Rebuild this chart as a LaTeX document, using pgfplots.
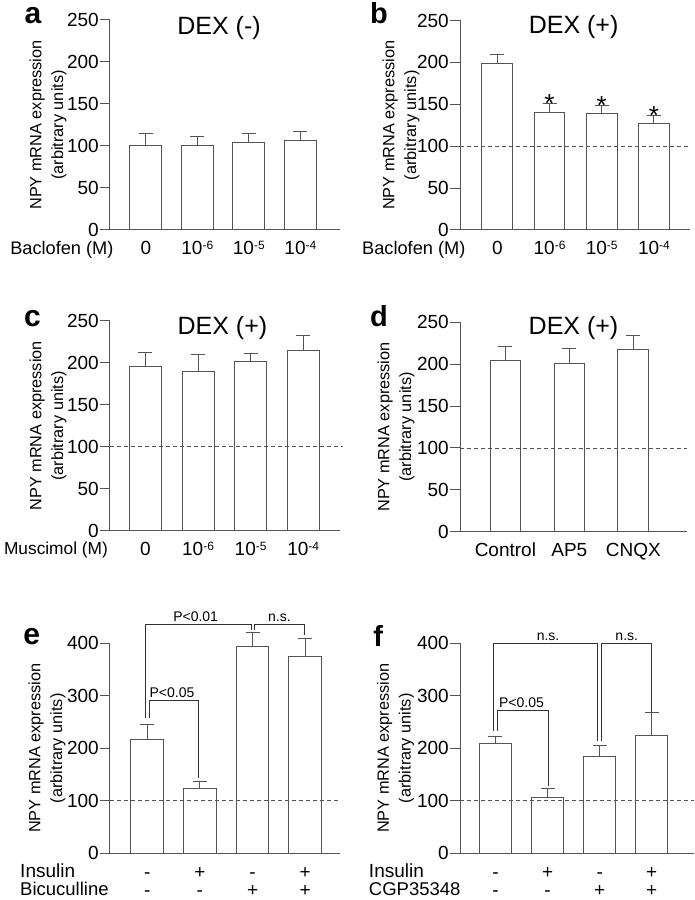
\documentclass[border=0pt]{standalone}
\usepackage{pgfplots}
\pgfplotsset{compat=1.18}
\usepackage{fontspec}
\setmainfont{Liberation Sans}
\definecolor{ln}{gray}{0.33}
\newcommand\fs[1]{\fontsize{#1}{#1}\selectfont}
\newcommand\ee[1]{10\raisebox{5.5pt}{\fontsize{12}{12}\selectfont -#1}}
\newcommand\tr[2]{\rule{0pt}{12.6pt}#1\\#2}
\tikzset{rowlab/.style={anchor=base west, inner sep=0pt, text height=13pt, text depth=0pt}}
\pgfplotsset{
  panel/.style={
    scale only axis, anchor=south west,
    axis lines=left,
    axis line style={-, draw=ln, line width=1pt},
    tick align=outside,
    major tick length=10pt,
    ytick style={draw=ln, line width=1pt},
    xtick style={draw=none},
    clip=false,
    ymin=0,
    /pgf/number format/assume math mode=true,
    tick label style={font=\fs{19}, text=black},
    yticklabel style={inner sep=1pt},
    xticklabel style={anchor=base, yshift=-14.7pt, inner sep=0pt},
    ylabel={NPY mRNA expression\\(arbitrary units)},
    ylabel style={at={([xshift=-62pt]axis description cs:0,0.5)}, anchor=center, align=center, font=\fontsize{16.3}{21.6}\selectfont},
  },
  twoRow/.style={
    xticklabel style={anchor=north, yshift=14.7pt, yshift=-1.9pt, align=center, text depth=0pt, font=\fontsize{19}{18}\selectfont},
  },
  bars/.style={ybar, bar width=#1, bar shift=0pt, fill=white, draw=ln, line width=1pt,
    error bars/.cd, y dir=plus, y explicit,
    error bar style={draw=ln, line width=1pt},
    error mark options={rotate=90, draw=ln, mark size=7pt, line width=1pt}},
  refl/.style={draw=ln, line width=0.8pt, dash pattern=on 4pt off 3pt},
  brk/.style={draw=black!80, line width=0.9pt},
}
\begin{document}
\begin{tikzpicture}
\useasboundingbox (0pt,0pt) rectangle (694pt,900pt);
% panel a
\begin{axis}[panel, at={(110pt,670pt)}, width=230pt, height=210pt,
  xmin=-0.695, xmax=3.77, ymax=250, ytick={0,50,...,250},
  xtick={0,1,2,3}, xticklabels={0,\ee6,\ee5,\ee4}]
\addplot[bars=0.615] coordinates {(0,100) +- (0,15) (1,101) +- (0,10.5) (2,104.6) +- (0,10) (3,107) +- (0,10)};
\node[anchor=base, font=\fs{25}] at (rel axis cs:0.474,0.929) {DEX (-)};
\node[anchor=base, font=\fs{18.2}, yshift=-24.7pt] at (axis cs:-1.63,0) {Baclofen (M)};
\end{axis}
% panel b
\begin{axis}[panel, at={(460pt,670pt)}, width=230pt, height=209.5pt,
  xmin=-0.715, xmax=3.69, ymax=250, ytick={0,50,...,250},
  xtick={0,1,2,3}, xticklabels={0,\ee6,\ee5,\ee4},
  ylabel style={at={([xshift=-59pt]axis description cs:0,0.5)}}]
\addplot[bars=0.59] coordinates {(0,199) +- (0,11) (1,140.4) +- (0,10.3) (2,139) +- (0,10) (3,126.5) +- (0,10)};
\addplot[refl] coordinates {(-0.715,100) (3.69,100)};
\node[anchor=base, font=\fs{26}, yshift=-9pt] at (axis cs:1,150.7) {*};
\node[anchor=base, font=\fs{26}, yshift=-9pt] at (axis cs:2,149) {*};
\node[anchor=base, font=\fs{26}, yshift=-9pt] at (axis cs:3,136.5) {*};
\node[anchor=base, font=\fs{25}] at (rel axis cs:0.494,0.94) {DEX (+)};
\node[anchor=base, font=\fs{18.2}, yshift=-24.7pt] at (axis cs:-1.60,0) {Baclofen (M)};
\end{axis}
% panel c
\begin{axis}[panel, at={(110pt,369pt)}, width=230pt, height=210.3pt,
  xmin=-0.675, xmax=3.70, ymax=250, ytick={0,50,...,250},
  xtick={0,1,2,3}, xticklabels={0,\ee6,\ee5,\ee4}]
\addplot[bars=0.61] coordinates {(0,196) +- (0,16) (1,189.6) +- (0,20.4) (2,201) +- (0,10.5) (3,215) +- (0,17)};
\addplot[refl] coordinates {(-0.675,100) (3.75,100)};
\node[anchor=base, font=\fs{25}] at (rel axis cs:0.489,0.932) {DEX (+)};
\node[anchor=base west, font=\fs{17.3}, yshift=-24pt] at (axis cs:-2.757,0) {Muscimol (M)};
\end{axis}
% panel d
\begin{axis}[panel, at={(460pt,368.3pt)}, width=227pt, height=209.4pt,
  xmin=-0.71, xmax=2.84, ymax=250, ytick={0,50,...,250},
  xtick={0,1,2}, xticklabels={Control,AP5,CNQX},
  ylabel style={at={([xshift=-64pt]axis description cs:0,0.5)}}]
\addplot[bars=0.48] coordinates {(0,204) +- (0,17) (1,201) +- (0,18) (2,217) +- (0,16.7)};
\addplot[refl] coordinates {(-0.71,100) (2.84,100)};
\node[anchor=base, font=\fs{25}] at (rel axis cs:0.50,0.94) {DEX (+)};
\end{axis}
% panel e
\begin{axis}[panel, twoRow, at={(110pt,46.7pt)}, width=230pt, height=210pt,
  xmin=-0.706, xmax=3.66, ymax=400, ytick={0,100,...,400},
  xtick={0,1,2,3}, xticklabels={\tr{-}{-},\tr{+}{-},\tr{-}{+},\tr{+}{+}},
  ylabel style={at={([xshift=-63pt]axis description cs:0,0.5)}}]
\addplot[bars=0.62] coordinates {(0,216) +- (0,29) (1,123.5) +- (0,12.5) (2,393) +- (0,28) (3,374) +- (0,35)};
\addplot[refl] coordinates {(-0.706,100) (3.66,100)};
\addplot[brk] coordinates {(-0.03,258) (-0.03,435) (1.97,435) (1.97,426)};
\addplot[brk] coordinates {(2.04,426) (2.04,435) (2.98,435) (2.98,415)};
\addplot[brk] coordinates {(0.05,258) (0.05,292) (0.98,292) (0.98,144)};
\node[anchor=base, font=\fs{14}, yshift=3pt] at (axis cs:0.92,435) {P<0.01};
\node[anchor=base, font=\fs{14}, yshift=3pt] at (axis cs:2.51,435) {n.s.};
\node[anchor=base, font=\fs{14}, yshift=3pt] at (axis cs:0.47,292) {P<0.05};
\node[rowlab, font=\fs{19}, yshift=-24.7pt] at (axis cs:-2.414,0) {Insulin};
\node[rowlab, font=\fs{18.5}, yshift=-41.7pt] at (axis cs:-2.414,0) {Bicuculline};
\end{axis}
% panel f
\begin{axis}[panel, twoRow, at={(460pt,46.7pt)}, width=234pt, height=210pt,
  xmin=-0.68, xmax=3.81, ymax=400, ytick={0,100,...,400},
  xtick={0,1,2,3}, xticklabels={\tr{-}{-},\tr{+}{-},\tr{-}{+},\tr{+}{+}},
  ylabel style={at={([xshift=-64.5pt]axis description cs:0,0.5)}}]
\addplot[bars=0.62] coordinates {(0,208.5) +- (0,14.5) (1,107) +- (0,17) (2,184) +- (0,21) (3,224) +- (0,45)};
\addplot[refl] coordinates {(-0.68,100) (3.81,100)};
\addplot[brk] coordinates {(-0.03,233) (-0.03,399) (1.96,399) (1.96,213)};
\addplot[brk] coordinates {(2.03,213) (2.03,399) (3.0,399) (3.0,270)};
\addplot[brk] coordinates {(0.04,233) (0.04,272) (1.01,272) (1.01,128)};
\node[anchor=base, font=\fs{14}, yshift=3pt] at (axis cs:1.01,399) {n.s.};
\node[anchor=base, font=\fs{14}, yshift=3pt] at (axis cs:2.52,399) {n.s.};
\node[anchor=base, font=\fs{14}, yshift=3pt] at (axis cs:0.50,272) {P<0.05};
\node[rowlab, font=\fs{19}, yshift=-24.7pt] at (axis cs:-2.43,0) {Insulin};
\node[rowlab, font=\fs{18.5}, yshift=-41.7pt] at (axis cs:-2.43,0) {CGP35348};
\end{axis}
% panel letters
\node[anchor=base, font=\fs{30}\bfseries] at (33pt,876pt) {a};
\node[anchor=base, font=\fs{29}\bfseries] at (379pt,876.7pt) {b};
\node[anchor=base, font=\fs{30}\bfseries] at (32.5pt,573.3pt) {c};
\node[anchor=base, font=\fs{29}\bfseries] at (379pt,573.3pt) {d};
\node[anchor=base, font=\fs{30}\bfseries] at (31.7pt,255pt) {e};
\node[anchor=base, font=\fs{29}\bfseries] at (378.3pt,253.3pt) {f};
\end{tikzpicture}
\end{document}
